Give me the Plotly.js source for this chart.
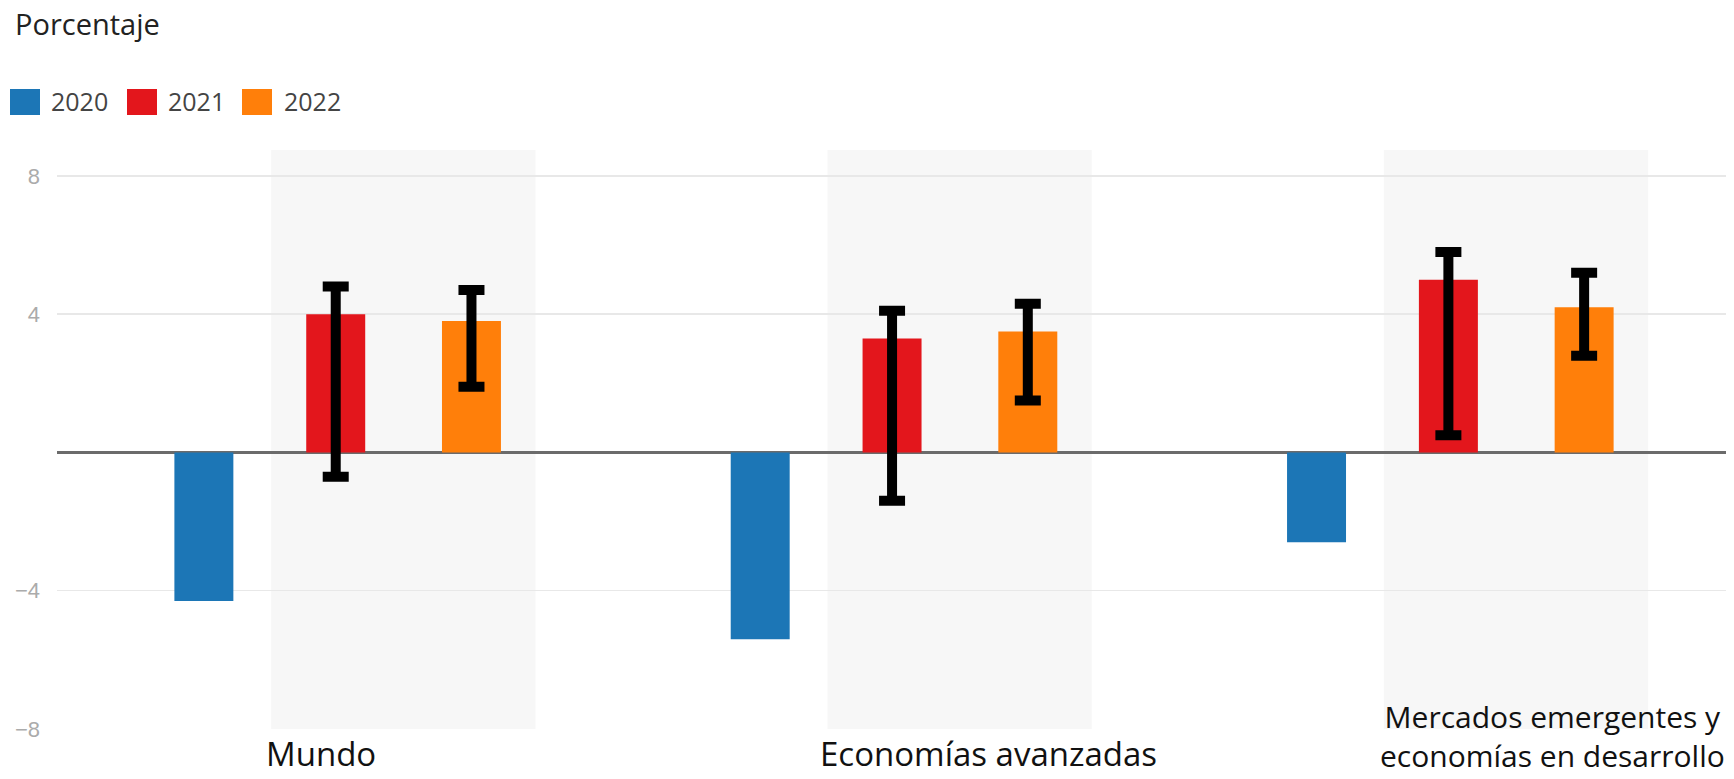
<!DOCTYPE html>
<html>
<head>
<meta charset="utf-8">
<script src="https://cdn.plot.ly/plotly-3.0.1.min.js"></script>
<style>
  html, body { margin: 0; padding: 0; background: #ffffff; }
  #chart { width: 1734px; height: 779px; }
</style>
</head>
<body>
<div id="chart"></div>
<script>
// ---- Data ----
const categories = ['Mundo', 'Economías avanzadas', 'Mercados emergentes y economías en desarrollo'];
const categoryLabels = ['Mundo', 'Economías avanzadas', 'Mercados emergentes y<br>economías en desarrollo'];
const seriesNames = ['2020', '2021', '2022'];
const seriesColors = ['#1c76b6', '#e3161c', '#ff7f0a'];

const values2020 = [-4.3, -5.4, -2.6];
const values2021 = [4.0, 3.3, 5.0];
const values2022 = [3.8, 3.5, 4.2];

// Error ranges (upper / lower bounds)
const upper2021 = [4.8, 4.1, 5.8];
const lower2021 = [-0.7, -1.4, 0.5];
const upper2022 = [4.7, 4.3, 5.2];
const lower2022 = [1.9, 1.5, 2.8];

const yTickVals = [-8, -4, 4, 8];
const yAxisLabel = 'Porcentaje';

// ---- Geometry helpers (layout only) ----
const W = 1734, H = 779;
const M = { l: 57, r: 8, t: 150, b: 50 };
const plotW = W - M.l - M.r, plotH = H - M.t - M.b;
const px2paperX = px => (px - M.l) / plotW;
const px2paperY = py => (H - M.b - py) / plotH;

// bar placement within each category (style only)
const barWidth = 0.106;
const barOffsets = [-0.289, -0.052, 0.192];

function errY(vals, up, lo) {
  return {
    type: 'data', symmetric: false, visible: true,
    array: up.map((u, i) => u - vals[i]),
    arrayminus: lo.map((l, i) => vals[i] - l),
    color: '#000000', thickness: 10, width: 13
  };
}

const seriesValues = [values2020, values2021, values2022];
const seriesErrors = [null, errY(values2021, upper2021, lower2021), errY(values2022, upper2022, lower2022)];

const traces = seriesNames.map((name, k) => {
  const t = {
    type: 'bar', name: name, x: categories, y: seriesValues[k],
    width: barWidth, offset: barOffsets[k],
    marker: { color: seriesColors[k], line: { width: 0 } },
    hoverinfo: 'x+y+name'
  };
  if (seriesErrors[k]) t.error_y = seriesErrors[k];
  return t;
});

// background bands behind 2021/2022 bars
const shapes = categories.map((c, i) => ({
  type: 'rect', xref: 'x', yref: 'paper', x0: i - 0.115, x1: i + 0.36, y0: 0, y1: 1,
  fillcolor: '#f7f7f7', line: { width: 0 }, layer: 'below'
}));

// custom legend swatches
const legendSwatchLeft = [10, 127, 242];
const legendTextLeft = [49, 166, 282];
seriesNames.forEach((n, k) => {
  shapes.push({
    type: 'rect', xref: 'paper', yref: 'paper',
    x0: px2paperX(legendSwatchLeft[k]), x1: px2paperX(legendSwatchLeft[k] + 30),
    y0: px2paperY(115), y1: px2paperY(89),
    fillcolor: seriesColors[k], line: { width: 0 }
  });
});

const annotations = [];
seriesNames.forEach((n, k) => {
  annotations.push({
    xref: 'paper', yref: 'paper', x: px2paperX(legendTextLeft[k]), y: px2paperY(101),
    xanchor: 'left', yanchor: 'middle', showarrow: false, text: n,
    font: { family: 'Open Sans', size: 25, color: '#444444' }
  });
});

annotations.push({
  xref: 'paper', yref: 'paper', x: px2paperX(13), y: px2paperY(23),
  xanchor: 'left', yanchor: 'middle', showarrow: false, text: yAxisLabel,
  font: { family: 'Open Sans', size: 29, color: '#222222' }
});

const labelShift = [-14, 97, 105];
const labelSize = [33, 33, 30];
const labelYShift = [-49, -49, -49];
categories.forEach((c, i) => {
  annotations.push({
    xref: 'x', yref: 'paper', x: c, y: 0, xanchor: 'center', yanchor: 'bottom',
    yshift: labelYShift[i], xshift: labelShift[i], showarrow: false, align: 'center',
    text: categoryLabels[i],
    font: { family: 'Open Sans', size: labelSize[i], color: '#111111' }
  });
});

const layout = {
  width: W, height: H,
  margin: M,
  paper_bgcolor: '#ffffff', plot_bgcolor: 'rgba(0,0,0,0)',
  barmode: 'overlay',
  showlegend: false,
  xaxis: {
    type: 'category', range: [-0.5, 2.5], showticklabels: false,
    showgrid: false, zeroline: false, showline: false, fixedrange: true
  },
  yaxis: {
    range: [-8, 8.75], tickvals: yTickVals, ticks: '',
    showgrid: true, gridcolor: '#e8e8e8', gridwidth: 1.5,
    zeroline: true, zerolinecolor: '#6b6b6b', zerolinewidth: 3,
    showline: false, ticklabelstandoff: 16,
    tickfont: { family: 'Liberation Sans', size: 22, color: '#ababab' },
    fixedrange: true
  },
  shapes: shapes,
  annotations: annotations
};

Plotly.newPlot('chart', traces, layout, { displayModeBar: false, staticPlot: true });
</script>
</body>
</html>
